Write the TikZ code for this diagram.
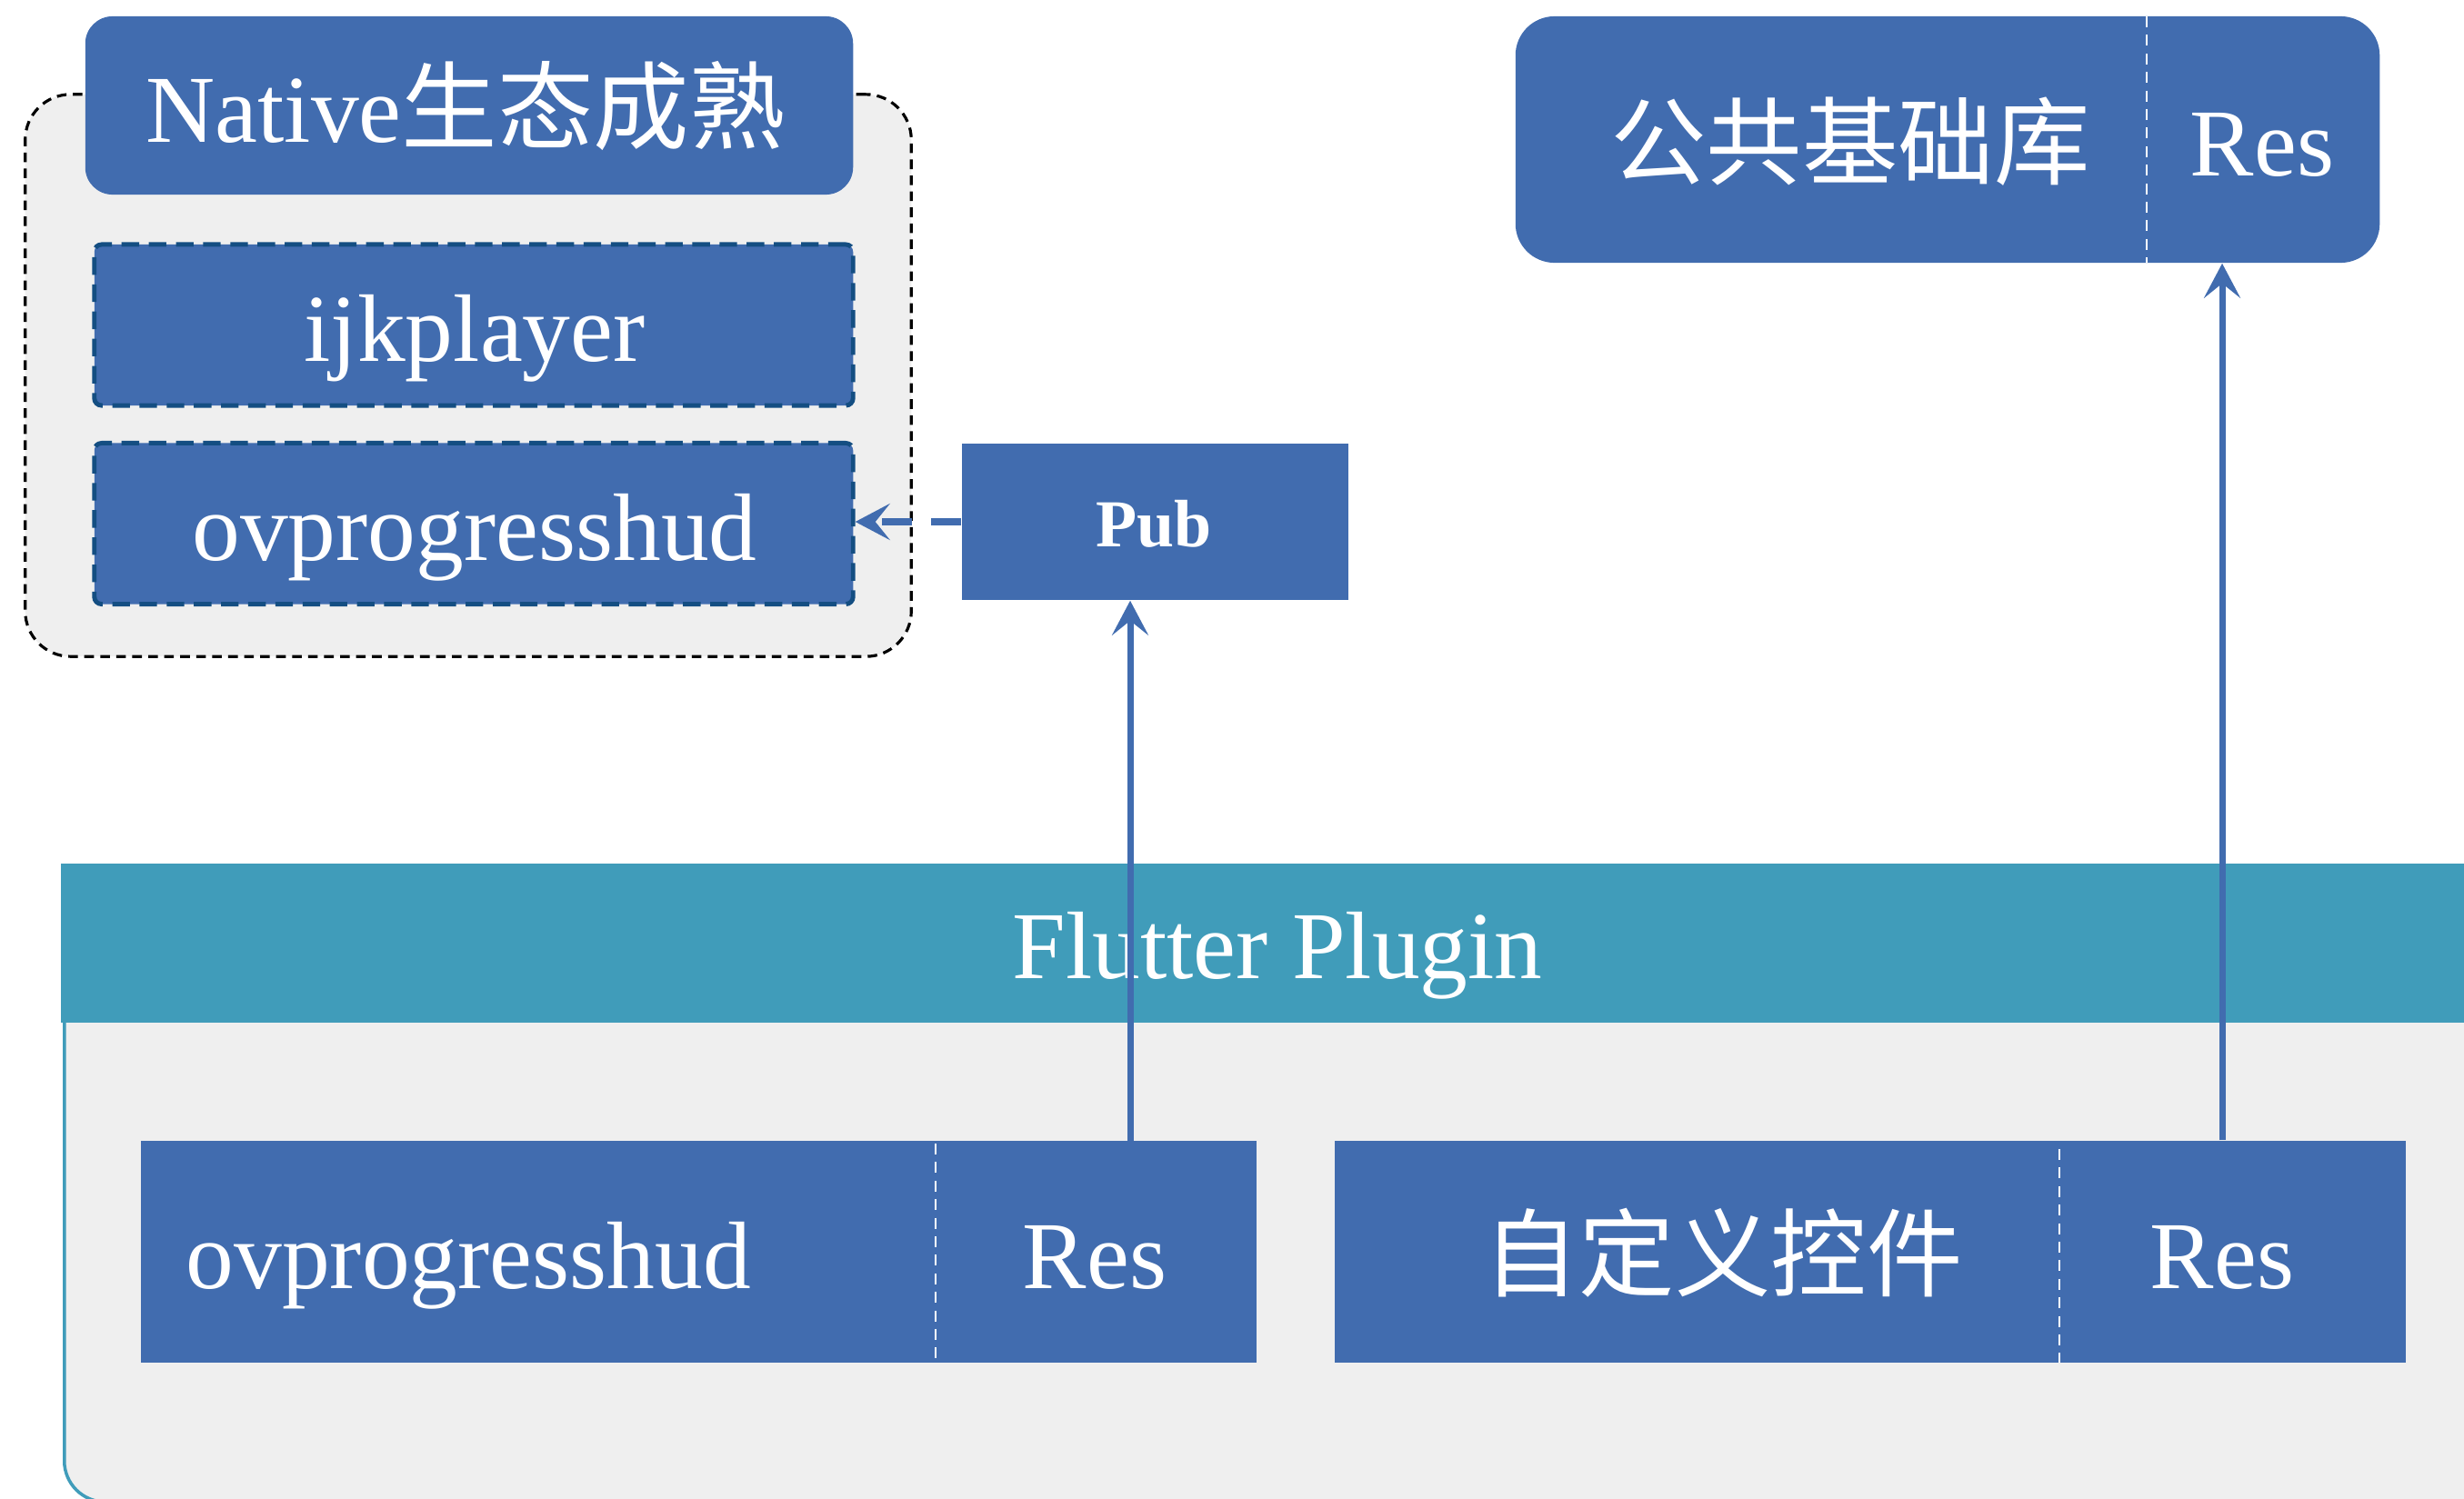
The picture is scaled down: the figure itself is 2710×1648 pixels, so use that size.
\documentclass[tikz,border=0pt]{standalone}
\usepackage{fontspec}
\setmainfont{Liberation Serif}
\newfontfamily\cjk{Noto Sans CJK SC}
\usetikzlibrary{arrows.meta}
\definecolor{boxblue}{RGB}{65,108,175}
\definecolor{plugteal}{RGB}{64,156,186}
\definecolor{panelgray}{RGB}{239,239,239}
\definecolor{edgeblue}{RGB}{20,78,130}
\tikzset{
    > = {Stealth[length=3.8mm, width=4mm, inset=1.6mm]},
    blk/.style = {rectangle, fill=boxblue, inner sep=0pt},
    lbl/.style = {text=white, inner sep=0pt, font=\fontsize{30}{36}\selectfont},
    libbox/.style = {blk, draw=edgeblue, line width=1.4pt, dash pattern=on 5.5pt off 3pt,
        rounded corners=0.8mm, minimum width=8.34cm, minimum height=1.77cm},
    divider/.style = {white, line width=0.8pt, dash pattern=on 3.4pt off 2.4pt},
    flow/.style = {->, boxblue, line width=2pt}
}

\begin{document}
\begin{tikzpicture}[x=0.01cm, y=-0.01cm]
    \useasboundingbox (0,0) rectangle (2710,1648);
    \clip (0,0) rectangle (2710,1648);

    % native side
    \node[draw, fill=panelgray, line width=0.9pt, dash pattern=on 3pt off 2pt,
        rounded corners=5mm, minimum width=9.74cm, minimum height=6.18cm] (nativegrp) at (515,413) {};
    \node[blk, rounded corners=3mm, minimum width=8.44cm, minimum height=1.96cm] (native) at (516,116) {};
    \node[lbl, anchor=base] (nativetxt) at (512,156) {Native{\cjk 生态成熟}};
    \node[libbox] (ijk) at (521,357.5) {};
    \node[lbl, anchor=base] (ijktxt) at (522,397) {ijkplayer};
    \node[libbox] (ovp) at (521,576) {};
    \node[lbl, anchor=base] (ovptxt) at (522,616) {ovprogresshud};

    \node[blk, minimum width=4.25cm, minimum height=1.72cm] (pub) at (1270.5,574) {};
    \node[lbl, font=\fontsize{21}{25}\selectfont\bfseries, anchor=base] (pubtxt) at (1269,601) {Pub};

    % common lib
    \node[blk, rounded corners=4.3mm, minimum width=9.5cm, minimum height=2.71cm] (common) at (2142,153.5) {};
    \draw[divider] (2361,18) -- (2361,289);
    \node[lbl] (commontxt) at (2035,156) {\cjk 公共基础库};
    \node[lbl, anchor=base] (commonres) at (2488,193) {Res};

    % flutter plugin
    \node[draw=plugteal, fill=panelgray, line width=1pt, rounded corners=4.5mm, anchor=north west,
        minimum width=26.9cm, minimum height=6.9cm] (flutter) at (69,960) {};
    \node[fill=plugteal, inner sep=0pt, anchor=north west,
        minimum width=27cm, minimum height=1.75cm] (plugin) at (66,949) {};
    \node[lbl, anchor=base] (plugintxt) at (1405,1076) {Flutter Plugin};

    \node[blk, minimum width=12.27cm, minimum height=2.44cm] (hud) at (768.5,1377) {};
    \draw[divider] (1029,1258) -- (1029,1495);
    \node[lbl, anchor=base west] (hudtxt) at (204,1417) {ovprogresshud};
    \node[lbl, anchor=base] (hudres) at (1204,1417) {Res};

    \node[blk, minimum width=11.78cm, minimum height=2.44cm] (ctl) at (2057,1377) {};
    \draw[divider] (2265,1264) -- (2265,1499);
    \node[lbl] (ctltxt) at (1895,1378) {\cjk 自定义控件};
    \node[lbl, anchor=base] (ctlres) at (2444,1417) {Res};

    % arrows
    \coordinate (hudup) at (1243,1255);
    \draw[flow] (hudup) -- (hudup |- pub.south);
    \draw[flow] (ctlres |- ctl.north) -- (ctlres |- common.south);
    \draw[flow, dash pattern=on 3.3mm off 2.1mm] (pub.west) -- (pub.west -| ovp.east);
\end{tikzpicture}
\end{document}
